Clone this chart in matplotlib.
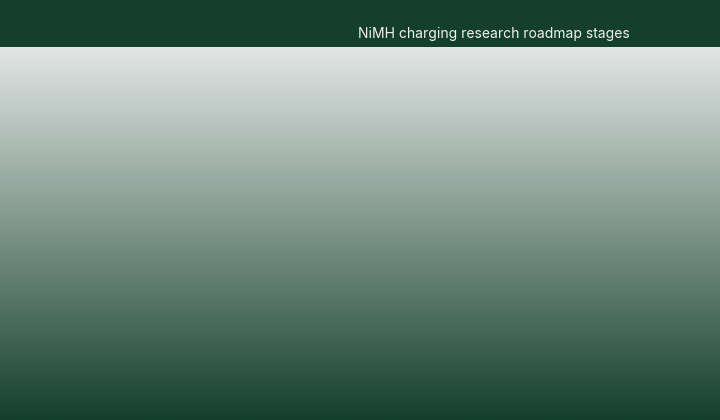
import numpy as np
import matplotlib.pyplot as plt
from matplotlib.colors import LinearSegmentedColormap

plt.rcParams['font.family'] = ['Inter', 'DejaVu Sans']

title = 'NiMH charging research roadmap stages'
header_color = '#143f2d'
grad_top = '#e2e6e4'
grad_bottom = '#143f2d'

fig = plt.figure(figsize=(7.2, 4.2), dpi=100)

# background gradient under the header
ax = fig.add_axes([0, 0, 1, 1 - 47 / 420])
cmap = LinearSegmentedColormap.from_list('bg', [grad_top, grad_bottom])
ax.imshow(np.linspace(0, 1, 256).reshape(-1, 1), aspect='auto', cmap=cmap,
          extent=[0, 1, 0, 1], interpolation='bilinear')
ax.axis('off')

# header bar
hdr = fig.add_axes([0, 1 - 47 / 420, 1, 47 / 420])
hdr.set_facecolor(header_color)
hdr.set_xticks([])
hdr.set_yticks([])
for s in hdr.spines.values():
    s.set_visible(False)
hdr.text(630 / 720, 0.27, title, ha='right', va='center', color='#f0f2f0',
         fontsize=10, transform=hdr.transAxes)

fig.savefig('out.png', dpi=100)
